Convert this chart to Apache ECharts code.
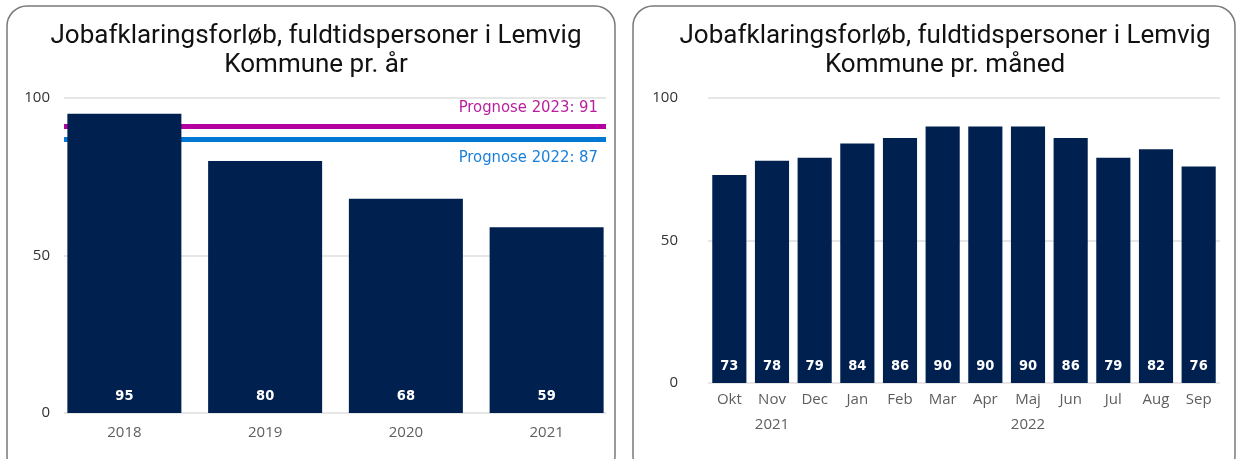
<!DOCTYPE html>
<html>
<head>
<meta charset="utf-8">
<script src="https://cdn.jsdelivr.net/npm/echarts@6/dist/echarts.min.js"></script>
<style>
  html, body { margin: 0; padding: 0; background: #fff; }
  #main { width: 1242px; height: 459px; }
</style>
</head>
<body>
<div id="main"></div>
<script>
// data
const titleText = 'Jobafklaringsforløb, fuldtidspersoner i Lemvig';
const yearCats = ['2018', '2019', '2020', '2021'];
const yearValues = [95, 80, 68, 59];
const prognoseNames = ['Prognose 2023', 'Prognose 2022'];
const prognoseValues = [91, 87];
const prognoseColors = ['#B4009E', '#0078D4'];
const prognoseTextColors = ['#B81E9E', '#1A7FDB'];
const monthCats = ['Okt', 'Nov', 'Dec', 'Jan', 'Feb', 'Mar', 'Apr', 'Maj', 'Jun', 'Jul', 'Aug', 'Sep'];
const monthValues = [73, 78, 79, 84, 86, 90, 90, 90, 86, 79, 82, 76];
const monthYears = ['', '2021', '', '', '', '', '', '2022', '', '', '', ''];

const navy = '#00204F';
const axisGrey = '#605E5C';
const titleFont = 'Roboto';
const labelFont = 'DejaVu Sans Condensed';
const axisFont = 'Open Sans';

const chart = echarts.init(document.getElementById('main'));

// forecast lines: first label above the line, second below
const prognoseLines = prognoseValues.map((v, i) => ({
  yAxis: v,
  lineStyle: { color: prognoseColors[i], width: 5, type: 'solid' },
  label: {
    show: true,
    position: i === 0 ? 'insideEndTop' : 'insideEndBottom',
    distance: [8, 10],
    formatter: prognoseNames[i] + ': ' + v,
    color: prognoseTextColors[i],
    fontFamily: labelFont,
    fontSize: 16.5
  }
}));

const valueLabel = {
  show: true,
  position: 'insideBottom',
  distance: 9,
  color: '#fff',
  fontFamily: labelFont,
  fontWeight: 'bold',
  fontSize: 14.5
};

const titleStyle = { fontFamily: titleFont, fontSize: 26, fontWeight: 'normal', color: '#111', lineHeight: 29 };

const option = {
  backgroundColor: '#fff',
  animation: false,
  graphic: [
    { type: 'rect', shape: { x: 7, y: 6, width: 608, height: 470, r: 20 },
      style: { fill: 'none', stroke: '#7a7a7a', lineWidth: 1.5 }, z: 0 },
    { type: 'rect', shape: { x: 633, y: 6, width: 602, height: 470, r: 20 },
      style: { fill: 'none', stroke: '#7a7a7a', lineWidth: 1.5 }, z: 0 }
  ],
  title: [
    { text: titleText + '\nKommune pr. år', left: 311, top: 17, textAlign: 'center', textStyle: titleStyle },
    { text: titleText + '\nKommune pr. måned', left: 940, top: 17, textAlign: 'center', textStyle: titleStyle }
  ],
  grid: [
    { left: 54, top: 98, width: 563, height: 315 },
    { left: 708, top: 98, width: 512, height: 285 },
    // plot area of the yearly chart for gridlines and forecast lines
    { left: 64, top: 98, width: 542, height: 315 }
  ],
  xAxis: [
    {
      type: 'category', gridIndex: 0, data: yearCats,
      axisLine: { show: false }, axisTick: { show: false },
      axisLabel: { color: axisGrey, fontFamily: axisFont, fontSize: 15, margin: 12 }
    },
    {
      type: 'category', gridIndex: 1, data: monthCats,
      axisLine: { show: false }, axisTick: { show: false },
      axisLabel: { color: axisGrey, fontFamily: axisFont, fontSize: 15, margin: 9, interval: 0 }
    },
    {
      type: 'category', gridIndex: 1, data: monthYears, position: 'bottom', offset: 25,
      axisLine: { show: false }, axisTick: { show: false }, splitLine: { show: false },
      axisLabel: { color: axisGrey, fontFamily: axisFont, fontSize: 15, margin: 9, interval: 0 }
    },
    { type: 'value', gridIndex: 2, min: 0, max: 1, show: false }
  ],
  yAxis: [
    {
      type: 'value', gridIndex: 0, min: 0, max: 100, interval: 50,
      axisLabel: { color: '#333', fontFamily: axisFont, fontSize: 15, margin: 4 },
      splitLine: { show: false }
    },
    {
      type: 'value', gridIndex: 1, min: 0, max: 100, interval: 50,
      axisLabel: { color: '#333', fontFamily: axisFont, fontSize: 15, margin: 30 },
      splitLine: { lineStyle: { color: '#E6E6E6', width: 2 } }
    },
    {
      type: 'value', gridIndex: 2, min: 0, max: 100, interval: 50,
      axisLabel: { show: false }, axisLine: { show: false }, axisTick: { show: false },
      splitLine: { lineStyle: { color: '#E6E6E6', width: 2 } }
    }
  ],
  series: [
    {
      type: 'line', xAxisIndex: 3, yAxisIndex: 2, data: [],
      markLine: { silent: true, symbol: 'none', data: prognoseLines }
    },
    {
      // own layer so the 2018 bar covers the forecast lines
      type: 'bar', xAxisIndex: 0, yAxisIndex: 0, data: yearValues, zlevel: 1,
      barCategoryGap: '19%',
      itemStyle: { color: navy },
      label: valueLabel
    },
    {
      type: 'bar', xAxisIndex: 1, yAxisIndex: 1, data: monthValues,
      barCategoryGap: '20%',
      itemStyle: { color: navy },
      label: valueLabel
    }
  ]
};

chart.setOption(option);
</script>
</body>
</html>
